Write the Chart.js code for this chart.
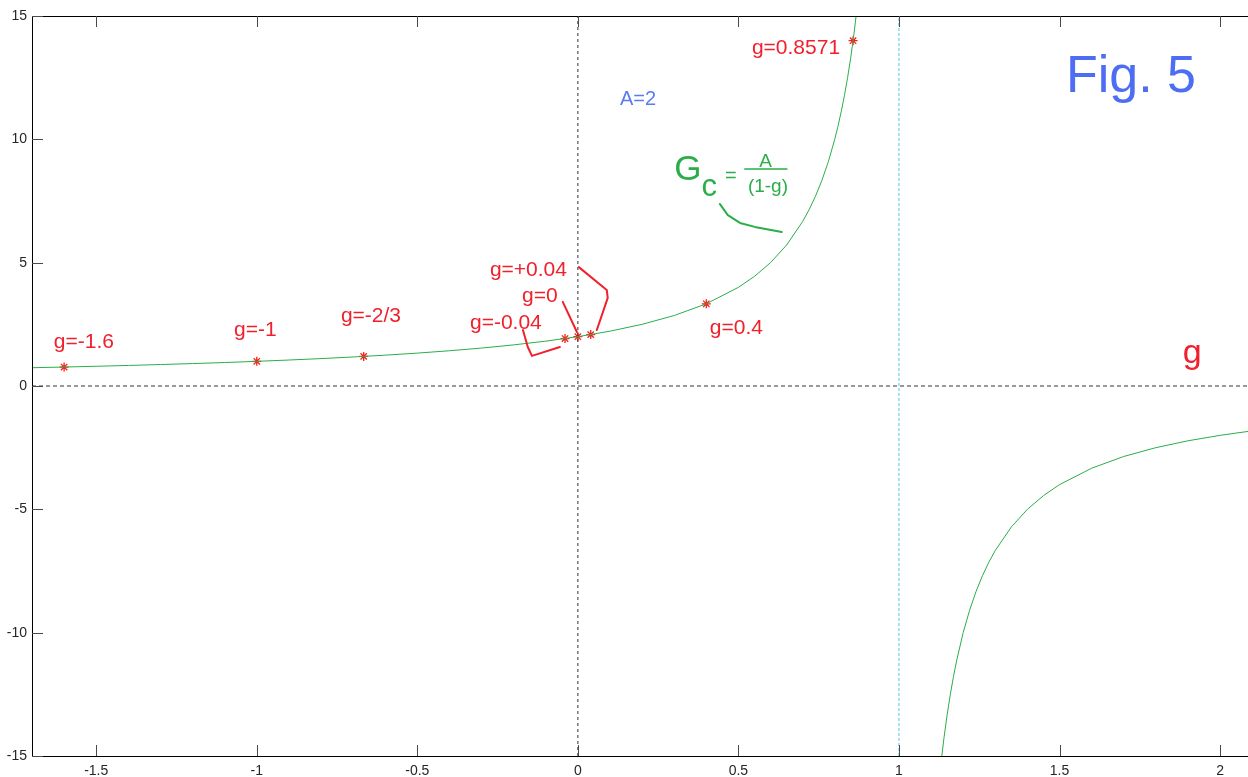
<!DOCTYPE html>
<html>
<head>
<meta charset="utf-8">
<title>Fig. 5</title>
<script src="https://cdn.jsdelivr.net/npm/chart.js@4"></script>
<style>
  html, body { margin: 0; padding: 0; background: #ffffff; }
  canvas { display: block; }
</style>
</head>
<body>
<canvas id="c" width="1248" height="777"></canvas>
<script>
// Closed-loop gain Gc = A / (1 - g) with A = 2, read at sample points of g
const gLeft  = [-1.7, -1.6, -1.5, -1.4, -1.3, -1.2, -1.1, -1.0, -0.9, -0.8, -0.7, -0.6, -0.5, -0.4, -0.3, -0.2, -0.1,
                0, 0.1, 0.2, 0.3, 0.4, 0.5, 0.55, 0.6, 0.65, 0.7, 0.72, 0.74, 0.76, 0.78, 0.8,
                0.81, 0.82, 0.83, 0.84, 0.85, 0.86, 0.87];
const gcLeft = [0.741, 0.769, 0.800, 0.833, 0.870, 0.909, 0.952, 1.000, 1.053, 1.111, 1.176, 1.250, 1.333, 1.429, 1.538, 1.667, 1.818,
                2.000, 2.222, 2.500, 2.857, 3.333, 4.000, 4.444, 5.000, 5.714, 6.667, 7.143, 7.692, 8.333, 9.091, 10.000,
                10.526, 11.111, 11.765, 12.500, 13.333, 14.286, 15.385];

const gRight  = [1.13, 1.14, 1.15, 1.16, 1.17, 1.18, 1.2, 1.22, 1.24, 1.26, 1.28, 1.3, 1.35, 1.4, 1.45, 1.5,
                 1.6, 1.7, 1.8, 1.9, 2.0, 2.1];
const gcRight = [-15.385, -14.286, -13.333, -12.5, -11.765, -11.111, -10, -9.091, -8.333, -7.692, -7.143, -6.667,
                 -5.714, -5.0, -4.444, -4.0, -3.333, -2.857, -2.5, -2.222, -2.0, -1.818];

// Marked operating points
const markG  = [-1.6, -1, -0.667, -0.04, 0, 0.04, 0.4, 0.8571];
const markGc = [0.769, 1.0, 1.2, 1.923, 2.0, 2.083, 3.333, 14.0];

// Axis ticks
const xTickValues = [-1.5, -1, -0.5, 0, 0.5, 1, 1.5, 2];
const xTickLabels = ['-1.5', '-1', '-0.5', '0', '0.5', '1', '1.5', '2'];
const yTickValues = [-15, -10, -5, 0, 5, 10, 15];
const yTickLabels = ['-15', '-10', '-5', '0', '5', '10', '15'];

const X_MIN = -1.7, X_MAX = 2.087, Y_MIN = -15, Y_MAX = 15;

const zip = (xs, ys) => xs.map((x, i) => ({ x: x, y: ys[i] }));

const FONT = 'Arial, "Liberation Sans", sans-serif';
const RED = '#f0202c';
const GREEN = '#2aae4a';

// Label placements in data units: [text, g, Gc (baseline)]
const labelPlacement = [
  ['g=-1.6',   -1.632, 1.54],
  ['g=-1',     -1.071, 2.03],
  ['g=-2/3',   -0.738, 2.59],
  ['g=+0.04',  -0.274, 4.46],
  ['g=0',      -0.174, 3.41],
  ['g=-0.04',  -0.336, 2.31],
  ['g=0.4',     0.411, 2.11],
  ['g=0.8571',  0.542, 13.46]
];

// Hand-drawn leader strokes (data units)
const leaderStrokes = [
  [[0.003, 4.82], [0.090, 3.89], [0.093, 3.57], [0.059, 2.27]],
  [[-0.047, 3.41], [-0.003, 2.19]],
  [[-0.171, 2.27], [-0.156, 1.58], [-0.143, 1.22], [-0.056, 1.58]]
];
const formulaStroke = [[0.442, 7.38], [0.467, 6.93], [0.505, 6.61], [0.551, 6.45], [0.635, 6.24]];

const framePlugin = {
  id: 'frameAndNotes',
  afterDatasetsDraw(chart) {
    const ctx = chart.ctx;
    const xs = chart.scales.x, ys = chart.scales.y;
    const a = chart.chartArea;
    const X = v => xs.getPixelForValue(v);
    const Y = v => ys.getPixelForValue(v);
    ctx.save();

    // frame (left, top, bottom)
    ctx.strokeStyle = '#000000';
    ctx.lineWidth = 1;
    ctx.beginPath();
    ctx.moveTo(a.left + 0.5, a.top + 0.5);
    ctx.lineTo(a.left + 0.5, a.bottom + 0.5);
    ctx.moveTo(a.left, a.top + 0.5);
    ctx.lineTo(a.right, a.top + 0.5);
    ctx.moveTo(a.left, a.bottom + 0.5);
    ctx.lineTo(a.right, a.bottom + 0.5);
    ctx.stroke();

    // inward tick marks
    ctx.strokeStyle = '#4a4a4a';
    ctx.beginPath();
    xTickValues.forEach(v => {
      const px = Math.round(X(v)) + 0.5;
      ctx.moveTo(px, a.bottom);
      ctx.lineTo(px, a.bottom - 11);
      ctx.moveTo(px, a.top);
      ctx.lineTo(px, a.top + 11);
    });
    yTickValues.forEach(v => {
      const py = Math.round(Y(v)) + 0.5;
      ctx.moveTo(a.left, py);
      ctx.lineTo(a.left + 11, py);
    });
    ctx.stroke();

    // point labels
    ctx.fillStyle = RED;
    ctx.textBaseline = 'alphabetic';
    ctx.textAlign = 'left';
    ctx.font = '21px ' + FONT;
    labelPlacement.forEach(([t, gx, gy]) => ctx.fillText(t, X(gx), Y(gy)));

    // leader strokes
    ctx.strokeStyle = RED;
    ctx.lineWidth = 2;
    ctx.lineJoin = 'round';
    ctx.lineCap = 'round';
    leaderStrokes.forEach(s => {
      ctx.beginPath();
      s.forEach(([gx, gy], i) => i ? ctx.lineTo(X(gx), Y(gy)) : ctx.moveTo(X(gx), Y(gy)));
      ctx.stroke();
    });

    // axis name
    ctx.font = '34px ' + FONT;
    ctx.fillText('g', X(1.884), Y(0.93));

    // title
    ctx.fillStyle = '#4d6ef2';
    ctx.font = '52px ' + FONT;
    ctx.fillText('Fig. 5', X(1.520), Y(11.92));

    ctx.fillStyle = '#5b7bf0';
    ctx.font = '20px ' + FONT;
    ctx.fillText('A=2', X(0.131), Y(11.39));

    // formula Gc = A / (1-g)
    ctx.fillStyle = GREEN;
    ctx.font = '35px ' + FONT;
    ctx.fillText('G', X(0.300), Y(8.35));
    ctx.font = '31px ' + FONT;
    ctx.fillText('c', X(0.385), Y(7.70));
    ctx.font = '20px ' + FONT;
    ctx.fillText('=', X(0.458), Y(8.27));
    ctx.textAlign = 'center';
    ctx.font = '19px ' + FONT;
    ctx.fillText('A', X(0.585), Y(8.88));
    ctx.fillText('(1-g)', X(0.592), Y(7.86));
    ctx.strokeStyle = GREEN;
    ctx.lineWidth = 1.5;
    ctx.beginPath();
    ctx.moveTo(X(0.520), Y(8.80));
    ctx.lineTo(X(0.651), Y(8.80));
    ctx.stroke();
    ctx.lineWidth = 2;
    ctx.beginPath();
    formulaStroke.forEach(([gx, gy], i) => i ? ctx.lineTo(X(gx), Y(gy)) : ctx.moveTo(X(gx), Y(gy)));
    ctx.stroke();

    ctx.restore();
  }
};

new Chart(document.getElementById('c'), {
  type: 'scatter',
  data: {
    datasets: [
      { // g = 0 axis
        data: zip([0, 0], [Y_MIN, Y_MAX]), showLine: true, pointRadius: 0,
        borderColor: '#333333', borderWidth: 1, borderDash: [3, 3], clip: 0
      },
      { // Gc = 0 axis
        data: zip([X_MIN, X_MAX], [0, 0]), showLine: true, pointRadius: 0,
        borderColor: '#333333', borderWidth: 1, borderDash: [4, 3], clip: 0
      },
      { // asymptote g = 1
        data: zip([1, 1], [Y_MIN, Y_MAX]), showLine: true, pointRadius: 0,
        borderColor: '#4ec6ee', borderWidth: 1, borderDash: [3, 2], clip: 0
      },
      {
        data: zip(gLeft, gcLeft), showLine: true, pointRadius: 0,
        borderColor: GREEN, borderWidth: 1, tension: 0, clip: 0
      },
      {
        data: zip(gRight, gcRight), showLine: true, pointRadius: 0,
        borderColor: GREEN, borderWidth: 1, tension: 0, clip: 0
      },
      {
        data: zip(markG, markGc), showLine: false,
        pointStyle: 'star', pointRadius: 4.5, borderWidth: 1.3,
        borderColor: '#ff1a1a', backgroundColor: '#ff1a1a'
      }
    ]
  },
  options: {
    responsive: false,
    animation: false,
    events: [],
    layout: { autoPadding: false, padding: { top: 16, right: 0, left: 0, bottom: 0 } },
    plugins: { legend: { display: false }, tooltip: { enabled: false }, title: { display: false } },
    scales: {
      x: {
        type: 'linear', min: X_MIN, max: X_MAX,
        afterBuildTicks: s => { s.ticks = xTickValues.map(v => ({ value: v })); },
        afterFit: s => { s.height = 21; s.paddingLeft = 0; s.paddingRight = 0; },
        grid: { display: false, drawTicks: false },
        border: { display: false },
        ticks: {
          autoSkip: false, maxRotation: 0, padding: 7, color: '#262626',
          font: { family: FONT, size: 14 },
          callback: v => xTickLabels[xTickValues.indexOf(v)]
        }
      },
      y: {
        type: 'linear', min: Y_MIN, max: Y_MAX,
        afterBuildTicks: s => { s.ticks = yTickValues.map(v => ({ value: v })); },
        afterFit: s => { s.width = 32; s.paddingTop = 0; s.paddingBottom = 0; },
        grid: { display: false, drawTicks: false },
        border: { display: false },
        ticks: {
          autoSkip: false, padding: 5, color: '#262626',
          font: { family: FONT, size: 14 },
          callback: v => yTickLabels[yTickValues.indexOf(v)]
        }
      }
    }
  },
  plugins: [framePlugin]
});
</script>
</body>
</html>
